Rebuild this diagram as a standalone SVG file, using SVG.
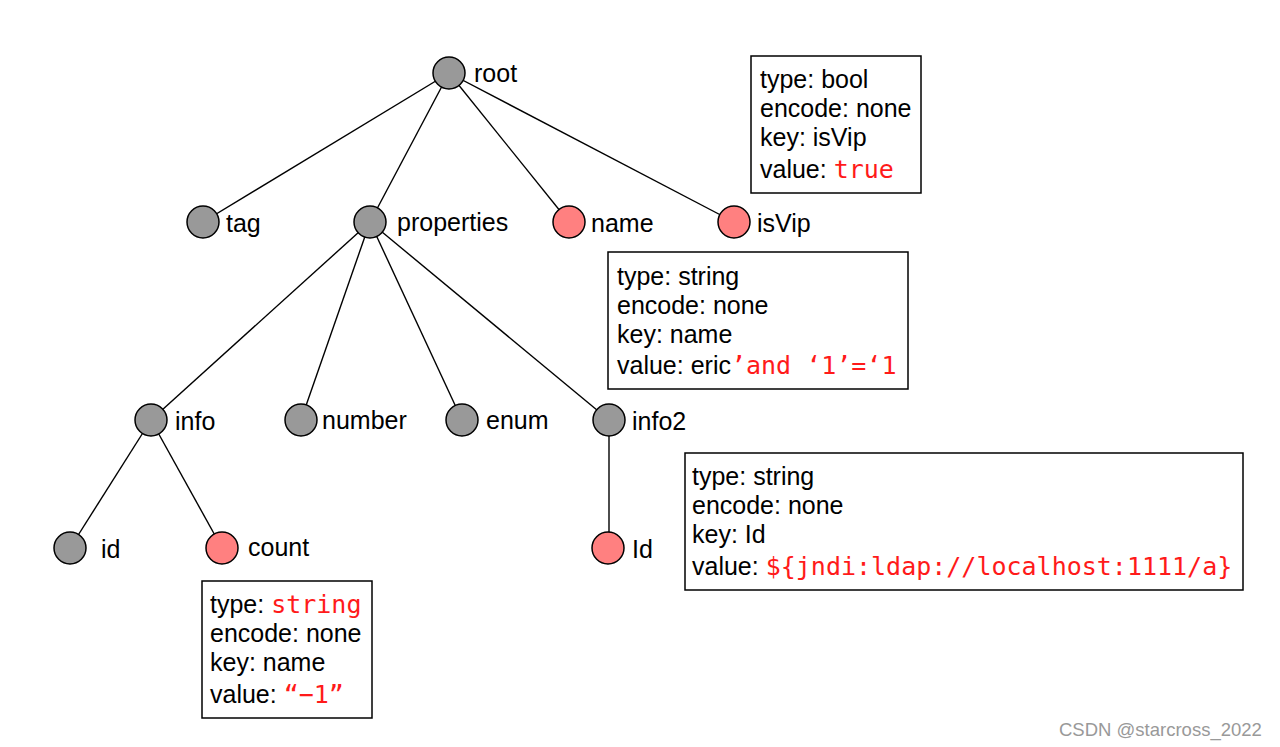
<svg xmlns="http://www.w3.org/2000/svg" width="1280" height="747" viewBox="0 0 1280 747">
<style>
.e{stroke:#000;stroke-width:1.4;fill:none}
.g{fill:#999;stroke:#000;stroke-width:1.5}
.p{fill:#ff8080;stroke:#000;stroke-width:1.5}
.t{font-family:"Liberation Sans",Arial,sans-serif;font-size:25px;fill:#000}
.r{font-family:"DejaVu Sans Mono","Liberation Mono",monospace;font-size:25px;fill:#ff1a1a}
.b{fill:#fff;stroke:#000;stroke-width:1.5}
</style>
<rect width="1280" height="747" fill="#fff"/>
<g id="connectors">
<line class="e" x1="449" y1="73" x2="203" y2="222"/>
<line class="e" x1="449" y1="73" x2="370" y2="222"/>
<line class="e" x1="449" y1="73" x2="569" y2="222"/>
<line class="e" x1="449" y1="73" x2="734" y2="222"/>
<line class="e" x1="370" y1="222" x2="151" y2="420"/>
<line class="e" x1="370" y1="222" x2="301" y2="420"/>
<line class="e" x1="370" y1="222" x2="462" y2="420"/>
<line class="e" x1="370" y1="222" x2="609" y2="420"/>
<line class="e" x1="151" y1="420" x2="70" y2="548"/>
<line class="e" x1="151" y1="420" x2="222" y2="548"/>
<line class="e" x1="609" y1="420" x2="609" y2="548"/>
</g>
<g id="root"><circle class="g" cx="449" cy="73" r="16"/><text class="t" x="474" y="82">root</text></g>
<g id="tag"><circle class="g" cx="203" cy="222" r="16"/><text class="t" x="226" y="232">tag</text></g>
<g id="properties"><circle class="g" cx="370" cy="222" r="16"/><text class="t" x="397" y="231">properties</text></g>
<g id="name"><circle class="p" cx="569" cy="222" r="16"/><text class="t" x="591" y="232">name</text></g>
<g id="isVip"><circle class="p" cx="734" cy="222" r="16"/><text class="t" x="757" y="232">isVip</text></g>
<g id="info"><circle class="g" cx="151" cy="420" r="16"/><text class="t" x="175" y="430">info</text></g>
<g id="number"><circle class="g" cx="301" cy="420" r="16"/><text class="t" x="322" y="429">number</text></g>
<g id="enum"><circle class="g" cx="462" cy="420" r="16"/><text class="t" x="486" y="429">enum</text></g>
<g id="info2"><circle class="g" cx="609" cy="420" r="16"/><text class="t" x="632" y="430">info2</text></g>
<g id="id"><circle class="g" cx="70" cy="548" r="16"/><text class="t" x="101" y="558">id</text></g>
<g id="count"><circle class="p" cx="222" cy="548" r="16"/><text class="t" x="248" y="556">count</text></g>
<g id="Id"><circle class="p" cx="608" cy="548" r="16"/><text class="t" x="632" y="558">Id</text></g>
<g id="box-isVip">
<rect class="b" x="751" y="56" width="170" height="137"/>
<text class="t" x="760" y="88">type: bool</text>
<text class="t" x="760" y="117">encode: none</text>
<text class="t" x="760" y="146">key: isVip</text>
<text class="t" x="760" y="178">value: <tspan class="r">true</tspan></text>
</g>
<g id="box-name">
<rect class="b" x="608" y="252" width="300" height="137"/>
<text class="t" x="617" y="285">type: string</text>
<text class="t" x="617" y="314">encode: none</text>
<text class="t" x="617" y="343">key: name</text>
<text class="t" x="617" y="374">value: eric<tspan class="r">’and ‘1’=‘1</tspan></text>
</g>
<g id="box-Id">
<rect class="b" x="685" y="453" width="558" height="137"/>
<text class="t" x="692" y="485">type: string</text>
<text class="t" x="692" y="514">encode: none</text>
<text class="t" x="692" y="543">key: Id</text>
<text class="t" x="692" y="575">value: <tspan class="r">${jndi:ldap://localhost:1111/a}</tspan></text>
</g>
<g id="box-count">
<rect class="b" x="202" y="581" width="170" height="137"/>
<text class="t" x="210" y="613">type: <tspan class="r">string</tspan></text>
<text class="t" x="210" y="642">encode: none</text>
<text class="t" x="210" y="671">key: name</text>
<text class="t" x="210" y="703">value: <tspan class="r">“−1”</tspan></text>
</g>
<text x="1059" y="736" font-family="Liberation Sans,Arial,sans-serif" font-size="18.5" fill="#999">CSDN @starcross_2022</text>
</svg>
